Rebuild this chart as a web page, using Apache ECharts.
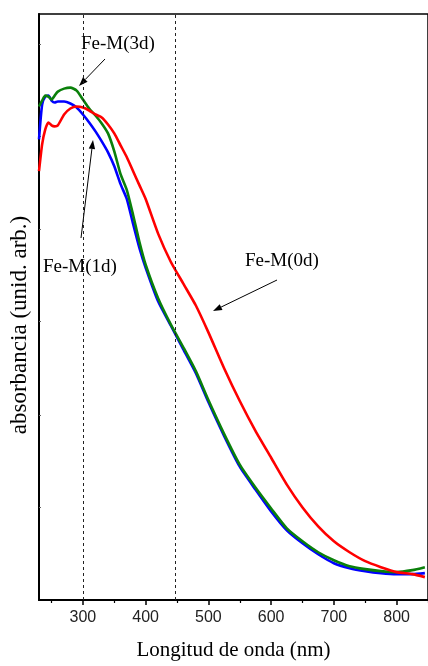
<!DOCTYPE html>
<html>
<head>
<meta charset="utf-8">
<script src="https://cdn.jsdelivr.net/npm/echarts@6/dist/echarts.min.js"></script>
<style>
  html, body { margin: 0; padding: 0; background: #fff; }
  #chart { width: 428px; height: 666px; }
</style>
</head>
<body>
<div id="chart"></div>
<script>
// longitud de onda (nm)
var wavelength = [230, 235, 240, 245, 250, 255, 260, 270, 280, 290, 300, 310, 320, 330, 340, 350, 360, 370, 380, 390,
  400, 420, 440, 460, 480, 500, 525, 550, 575, 600, 625, 650, 675, 700, 725, 750, 775, 800, 825, 845]
// absorbancia (unid. arb.)
var fe1d = [463, 498, 506, 507, 502, 500, 501, 501, 499, 495, 488, 480, 471, 461, 450, 436, 418, 403, 378, 354,
  334, 300, 276, 252, 228, 199, 165, 134, 111, 89, 70, 57, 46, 37, 32, 29, 27, 26, 26, 27]
var fe3d = [496, 502, 507, 506, 503, 507, 511, 514, 515, 512, 503, 494, 487, 479, 469, 451, 428, 412, 387, 360,
  337, 303, 277, 254, 230, 201, 167, 136, 113, 92, 72, 59, 48, 40, 34, 31, 29, 28, 30, 33]
var fe0d = [431, 458, 473, 480, 477, 476, 477, 488, 494, 496, 495, 492, 488, 485, 478, 469, 457, 445, 431, 417,
  403, 368, 340, 318, 296, 269, 233, 200, 170, 143, 116, 93, 74, 59, 48, 39, 33, 28, 26, 23]
var refLines = [300, 447]
var xTicks = [300, 400, 500, 600, 700, 800]
var xMinorTicks = [250, 350, 450, 550, 650, 750, 850]
var yTicks = [93, 186, 280, 373, 466, 559]

var serif = '"Liberation Serif", "Times New Roman", serif'
var sans = '"Liberation Sans", Arial, sans-serif'

function pairs(ys) {
  return wavelength.map(function (w, i) { return [w, ys[i]] })
}

// flecha: linea + punta rellena
function arrow(x1, y1, x2, y2) {
  var dx = x2 - x1, dy = y2 - y1
  var len = Math.sqrt(dx * dx + dy * dy)
  var ux = dx / len, uy = dy / len
  var hl = 9, hw = 3.2
  var bx = x2 - ux * hl, by = y2 - uy * hl
  return [
    { type: 'line', shape: { x1: x1, y1: y1, x2: bx, y2: by }, style: { stroke: '#000', lineWidth: 1 } },
    { type: 'polygon', shape: { points: [[x2, y2], [bx - uy * hw, by + ux * hw], [bx + uy * hw, by - ux * hw]] }, style: { fill: '#000' } }
  ]
}

var chart = echarts.init(document.getElementById('chart'))

var graphics = [
  { type: 'text', x: 20, y: 325, rotation: Math.PI / 2, style: { text: 'absorbancia (unid. arb.)', font: '23px ' + serif, fill: '#000', align: 'center', verticalAlign: 'middle' } },
  { type: 'text', x: 81, y: 44, style: { text: 'Fe-M(3d)', font: '19px ' + serif, fill: '#000', verticalAlign: 'middle' } },
  { type: 'text', x: 43, y: 267, style: { text: 'Fe-M(1d)', font: '19px ' + serif, fill: '#000', verticalAlign: 'middle' } },
  { type: 'text', x: 245, y: 261, style: { text: 'Fe-M(0d)', font: '19px ' + serif, fill: '#000', verticalAlign: 'middle' } }
]
graphics = graphics.concat(arrow(105, 59, 79, 86))
graphics = graphics.concat(arrow(81, 238, 93, 140))
graphics = graphics.concat(arrow(277, 280, 213, 311))

chart.setOption({
  animation: false,
  backgroundColor: '#fff',
  grid: {
    left: 39, top: 14, right: -3, bottom: 63,
    show: true, borderColor: '#000', borderWidth: 1.5
  },
  xAxis: [
    {
      type: 'value',
      min: 230, max: 850,
      name: 'Longitud de onda (nm)',
      nameLocation: 'middle',
      nameGap: 40,
      nameTextStyle: { fontFamily: serif, fontSize: 21, color: '#000' },
      axisLine: { lineStyle: { color: '#000', width: 2 } },
      axisTick: { show: true, length: 5, customValues: xTicks, lineStyle: { color: '#000', width: 1.5 } },
      axisLabel: { customValues: xTicks, margin: 10, fontFamily: sans, fontSize: 16, color: '#222' },
      splitLine: { show: false }
    },
    {
      type: 'value',
      position: 'bottom',
      min: 230, max: 850,
      axisLine: { show: false },
      axisTick: { show: true, length: 3, customValues: xMinorTicks, lineStyle: { color: '#000', width: 1.2 } },
      axisLabel: { show: false },
      splitLine: { show: false }
    }
  ],
  yAxis: {
    type: 'value',
    min: 0, max: 589,
    axisLine: { show: true, lineStyle: { color: '#000', width: 2 } },
    axisTick: { show: true, inside: true, length: 2, customValues: yTicks, lineStyle: { color: '#666', width: 1 } },
    axisLabel: { show: false },
    splitLine: { show: false }
  },
  graphic: graphics,
  series: [
    {
      name: 'Fe-M(1d)', type: 'line', data: pairs(fe1d), showSymbol: false, smooth: 0.2,
      lineStyle: { color: '#0000ff', width: 2.6 },
      markLine: {
        silent: true, symbol: 'none', label: { show: false },
        lineStyle: { color: '#222', type: [3, 3], width: 1 },
        data: refLines.map(function (v) { return { xAxis: v } })
      }
    },
    { name: 'Fe-M(3d)', type: 'line', data: pairs(fe3d), showSymbol: false, smooth: 0.2, lineStyle: { color: '#0a800a', width: 2.6 } },
    { name: 'Fe-M(0d)', type: 'line', data: pairs(fe0d), showSymbol: false, smooth: 0.2, lineStyle: { color: '#ff0000', width: 2.6 } }
  ]
})
</script>
</body>
</html>
